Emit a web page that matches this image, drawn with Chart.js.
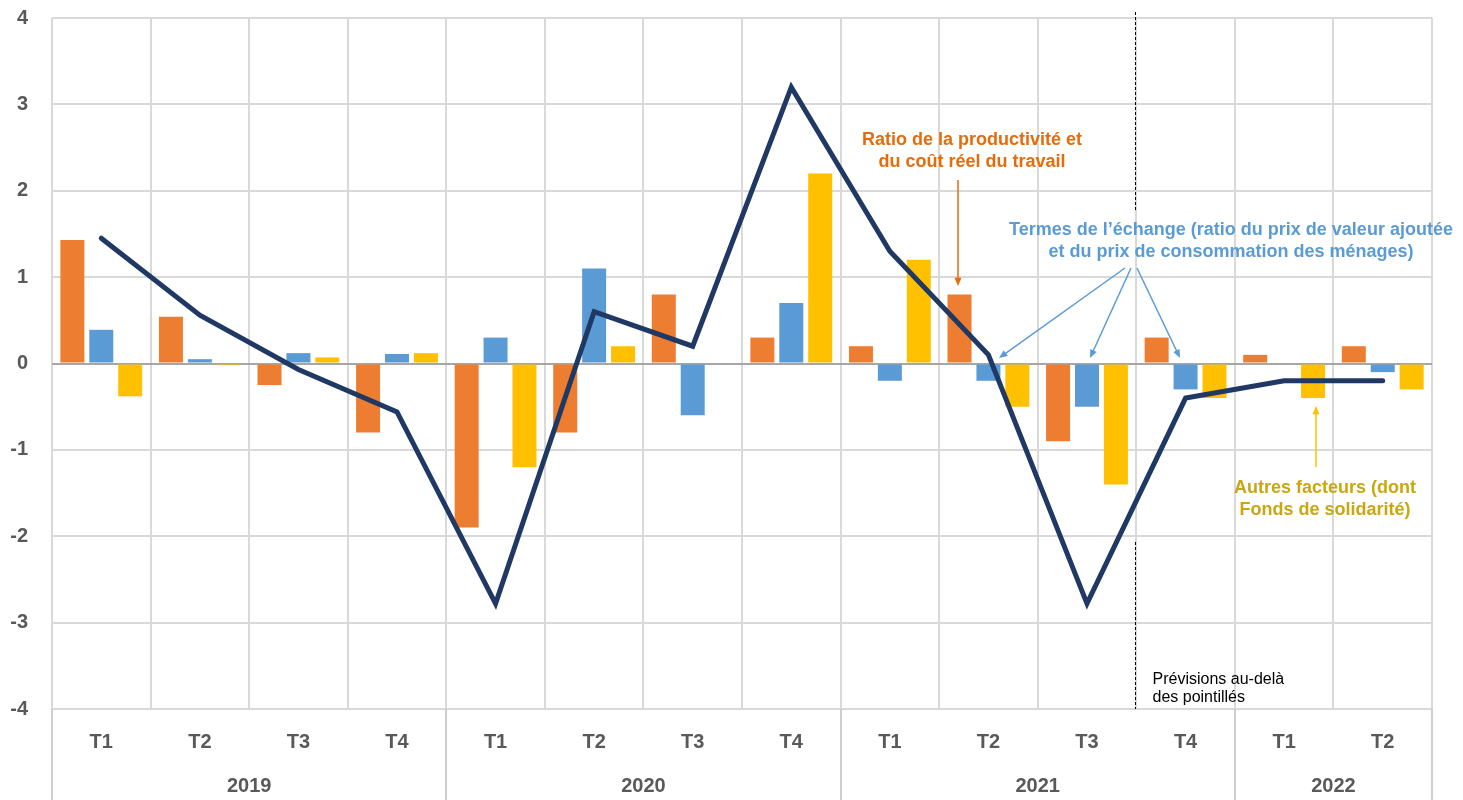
<!DOCTYPE html>
<html>
<head>
<meta charset="utf-8">
<script src="https://cdn.jsdelivr.net/npm/chart.js@4/dist/chart.umd.min.js"></script>
<style>
  html, body { margin: 0; padding: 0; background: #fff; }
  #wrap { position: relative; width: 1463px; height: 800px; }
</style>
</head>
<body>
<div id="wrap"><canvas id="chart" width="1463" height="800"></canvas></div>
<script>
// quarters and years (two-level axis)
const quarters = ['T1', 'T2', 'T3', 'T4', 'T1', 'T2', 'T3', 'T4', 'T1', 'T2', 'T3', 'T4', 'T1', 'T2']
const years = ['2019', '2020', '2021', '2022']
const yearSpans = [4, 4, 4, 2]

// contributions (points)
const ratioProductivite = [1.43, 0.54, -0.25, -0.8, -1.9, -0.8, 0.8, 0.3, 0.2, 0.8, -0.9, 0.3, 0.1, 0.2]
const termesEchange = [0.39, 0.05, 0.12, 0.11, 0.3, 1.1, -0.6, 0.7, -0.2, -0.2, -0.5, -0.3, 0, -0.1]
const autresFacteurs = [-0.38, -0.02, 0.07, 0.12, -1.2, 0.2, 0, 2.2, 1.2, -0.5, -1.4, -0.4, -0.4, -0.3]
const total = [1.45, 0.56, -0.07, -0.56, -2.78, 0.6, 0.2, 3.2, 1.3, 0.1, -2.78, -0.4, -0.2, -0.2]

const yMin = -4
const yMax = 4
const forecastStart = 11 // first forecast quarter (2021 T4)

const FONT = "'Liberation Sans', Arial, sans-serif"
const GREY_TXT = '#595959'

const arrow = (ctx, x1, y1, x2, y2, color) => {
  const a = Math.atan2(y2 - y1, x2 - x1)
  const len = 9
  ctx.save()
  ctx.strokeStyle = color
  ctx.fillStyle = color
  ctx.lineWidth = 1.5
  ctx.beginPath()
  ctx.moveTo(x1, y1)
  ctx.lineTo(x2 - Math.cos(a) * len * 0.8, y2 - Math.sin(a) * len * 0.8)
  ctx.stroke()
  ctx.beginPath()
  ctx.moveTo(x2, y2)
  ctx.lineTo(x2 - len * Math.cos(a - 0.4), y2 - len * Math.sin(a - 0.4))
  ctx.lineTo(x2 - len * Math.cos(a + 0.4), y2 - len * Math.sin(a + 0.4))
  ctx.closePath()
  ctx.fill()
  ctx.restore()
}

const textLines = (ctx, lines, x, y, color, font, lh) => {
  ctx.save()
  ctx.fillStyle = color
  ctx.font = font
  ctx.textAlign = 'center'
  ctx.textBaseline = 'middle'
  lines.forEach((t, i) => ctx.fillText(t, x, y + i * lh))
  ctx.restore()
}

// multi-level x axis, forecast marker, annotations
const decorations = {
  id: 'decorations',
  afterDraw(chart) {
    const ctx = chart.ctx
    const x = chart.scales.x
    const area = chart.chartArea
    const step = x.getPixelForValue(1) - x.getPixelForValue(0)

    ctx.save()
    // year separators in the axis zone
    ctx.strokeStyle = '#bfbfbf'
    ctx.lineWidth = 1.5
    let start = 0
    const bounds = [0]
    yearSpans.forEach(n => { start += n; bounds.push(start) })
    bounds.forEach(b => {
      const px = Math.round(x.getPixelForValue(b) - step / 2)
      ctx.beginPath()
      ctx.moveTo(px, area.bottom)
      ctx.lineTo(px, 800)
      ctx.stroke()
    })

    // quarter labels
    ctx.fillStyle = GREY_TXT
    ctx.font = `bold 20px ${FONT}`
    ctx.textAlign = 'center'
    ctx.textBaseline = 'middle'
    quarters.forEach((q, i) => ctx.fillText(q, x.getPixelForValue(i), area.bottom + 33))

    // year labels
    years.forEach((yr, k) => {
      const first = bounds[k]
      const last = bounds[k + 1] - 1
      const cx = (x.getPixelForValue(first) + x.getPixelForValue(last)) / 2
      ctx.fillText(yr, cx, area.bottom + 77)
    })

    // forecast dashed line
    const fx = Math.round((x.getPixelForValue(forecastStart - 1) + x.getPixelForValue(forecastStart)) / 2) - 0.5
    ctx.strokeStyle = '#000'
    ctx.lineWidth = 1
    ctx.setLineDash([3, 2])
    ctx.beginPath()
    ctx.moveTo(fx, 12)
    ctx.lineTo(fx, 212)
    ctx.moveTo(fx, 542)
    ctx.lineTo(fx, area.bottom)
    ctx.stroke()
    ctx.setLineDash([])

    ctx.fillStyle = '#000'
    ctx.font = `16px ${FONT}`
    ctx.textAlign = 'left'
    ctx.fillText('Prévisions au-delà', fx + 17, 680)
    ctx.fillText('des pointillés', fx + 17, 698)
    ctx.restore()

    // annotations
    textLines(ctx, ['Ratio de la productivité et', 'du coût réel du travail'], 972, 140,
      '#E46C0A', `bold 18px ${FONT}`, 22)
    arrow(ctx, 958, 180, 958, 286, '#E46C0A')

    textLines(ctx, ['Termes de l\u2019échange (ratio du prix de valeur ajoutée', 'et du prix de consommation des ménages)'],
      1231, 230, '#5B9BD5', `bold 18px ${FONT}`, 22)
    arrow(ctx, 1125, 268, 999, 358, '#5B9BD5')
    arrow(ctx, 1131, 268, 1090, 358, '#5B9BD5')
    arrow(ctx, 1137, 268, 1180, 358, '#5B9BD5')

    textLines(ctx, ['Autres facteurs (dont', 'Fonds de solidarité)'], 1325, 488,
      '#C9A80F', `bold 18px ${FONT}`, 22)
    arrow(ctx, 1316, 467, 1316, 406, '#FFC000')
  }
}

const ctx = document.getElementById('chart').getContext('2d')

new Chart(ctx, {
  type: 'bar',
  data: {
    labels: quarters,
    datasets: [
      {
        type: 'line',
        label: 'Total',
        data: total,
        borderColor: '#1F3864',
        borderWidth: 5,
        pointRadius: 0,
        borderCapStyle: 'round',
        tension: 0,
        order: 0
      },
      { label: 'Ratio de la productivité et du coût réel du travail', data: ratioProductivite, backgroundColor: '#ED7D31', order: 1 },
      { label: 'Termes de l\u2019échange', data: termesEchange, backgroundColor: '#5B9BD5', order: 1 },
      { label: 'Autres facteurs', data: autresFacteurs, backgroundColor: '#FFC000', order: 1 }
    ]
  },
  options: {
    responsive: false,
    animation: false,
    categoryPercentage: 0.88,
    barPercentage: 0.83,
    layout: { padding: { top: 18, right: 31, bottom: 0, left: 0 } },
    plugins: {
      legend: { display: false },
      tooltip: { enabled: false }
    },
    scales: {
      x: {
        grid: { color: '#d9d9d9', lineWidth: 2, offset: true, drawTicks: false },
        border: { display: false },
        ticks: { display: false },
        afterFit: (s) => { s.height = 91 }
      },
      y: {
        min: yMin,
        max: yMax,
        ticks: {
          stepSize: 1,
          color: GREY_TXT,
          padding: 24,
          font: { family: FONT, size: 20, weight: 'bold' }
        },
        grid: {
          color: (c) => c.tick && c.tick.value === 0 ? '#a6a6a6' : '#d9d9d9',
          lineWidth: 2,
          drawTicks: false
        },
        border: { display: false },
        afterFit: (s) => { s.width = 52; s.paddingTop = 0; s.paddingBottom = 0 }
      }
    }
  },
  plugins: [decorations]
})
</script>
</body>
</html>
